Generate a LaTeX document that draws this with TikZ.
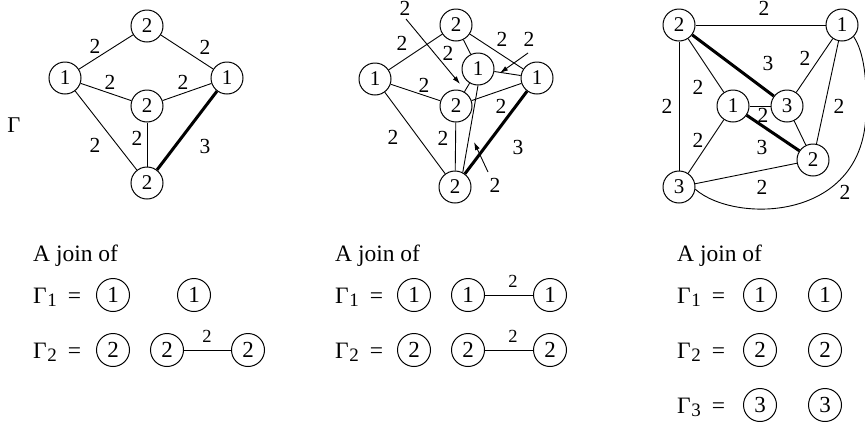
\documentclass[tikz,border=0pt]{standalone}
\usepackage{fontspec}
\setmainfont{Liberation Serif}
\usetikzlibrary{arrows.meta}
\begin{document}
\begin{tikzpicture}[x=1pt,y=-1pt,
  vtx/.style={circle,draw,line width=1pt,minimum size=32pt,inner sep=0pt,font=\fontsize{21}{21}\selectfont},
  bvtx/.style={circle,draw,line width=1pt,minimum size=33pt,inner sep=0pt,font=\fontsize{23}{23}\selectfont},
  lab/.style={inner sep=0pt,font=\fontsize{21.5}{21.5}\selectfont},
  slab/.style={inner sep=0pt,font=\fontsize{18.5}{18.5}\selectfont},
  edge/.style={line width=0.9pt},
  heavy/.style={line width=3pt},
  arr/.style={line width=0.9pt,-{Latex[length=8pt,width=5pt]}},
  txt/.style={inner sep=0pt,anchor=base west,font=\fontsize{23.5}{23.5}\selectfont}]
\useasboundingbox (0,0) rectangle (865,421);
\newcommand{\Gsub}[1]{Γ\kern0.5pt\raisebox{-3pt}{\fontsize{19}{19}\selectfont #1}\hspace{11pt}=}

% ---------- Graph 1 ----------
\node[lab,font=\fontsize{22.5}{22.5}\selectfont] (gam) at (14,125) {Γ};
\node[vtx] (a1) at (147,26) {2};
\node[vtx] (a2) at (65,78) {1};
\node[vtx] (a3) at (227,78) {1};
\node[vtx] (a4) at (147,106) {2};
\node[vtx] (a5) at (147,183) {2};
\draw[edge] (a1) -- (a2);
\draw[edge] (a1) -- (a3);
\draw[edge] (a2) -- (a4);
\draw[edge] (a3) -- (a4);
\draw[edge] (a2) -- (a5);
\draw[edge] (a4) -- (a5);
\draw[heavy] (a3) -- (a5);
\node[lab] (la1) at (95,46) {2};
\node[lab] (la2) at (205,47) {2};
\node[lab] (la3) at (110,82) {2};
\node[lab] (la4) at (183,82) {2};
\node[lab] (la5) at (137,138) {2};
\node[lab] (la6) at (95,145) {2};
\node[lab] (la7) at (205,146) {3};

% ---------- Graph 2 ----------
\node[vtx] (b1) at (456,25) {2};
\node[vtx] (b2) at (375,79) {1};
\node[vtx] (b3) at (478,69) {1};
\node[vtx] (b4) at (537,78) {1};
\node[vtx] (b5) at (456,106) {2};
\node[vtx] (b6) at (455,187) {2};
\draw[edge] (b1) -- (b2);
\draw[edge] (b1) -- (b4);
\draw[edge] (b1) -- (b3);
\draw[edge] (b2) -- (b5);
\draw[edge] (b2) -- (b6);
\draw[edge] (b5) -- (b6);
\draw[edge] (b5) -- (b4);
\draw[edge] (b3) -- (b5);
\draw[edge] (b3) -- (b4);
\draw[edge] (b3.-90) -- (b6.62);
\draw[heavy] (b4) -- (b6);
\node[lab] (lb1) at (405,8.5) {2};
\node[lab] (lb2) at (402,43) {2};
\node[lab] (lb3) at (448,53) {2};
\node[lab] (lb4) at (502,39) {2};
\node[lab] (lb5) at (529,39) {2};
\node[lab] (lb6) at (424,85) {2};
\node[lab] (lb7) at (501,106) {2};
\node[lab] (lb8) at (393,137) {2};
\node[lab] (lb9) at (443,138) {2};
\node[lab] (lb10) at (518,147) {3};
\node[lab] (lb11) at (495,185) {2};
\coordinate (t1) at (406,19); \coordinate (h1) at (460,84);
\coordinate (t2) at (528,53); \coordinate (h2) at (500,73);
\coordinate (t3) at (488,172); \coordinate (h3) at (474,142);
\draw[arr] (t1) -- (h1);
\draw[arr] (t2) -- (h2);
\draw[arr] (t3) -- (h3);

% ---------- Graph 3 ----------
\node[vtx] (c1) at (679,25) {2};
\node[vtx] (c2) at (842,25) {1};
\node[vtx] (c3) at (733,106) {1};
\node[vtx] (c4) at (787,106) {3};
\node[vtx] (c5) at (813,160) {2};
\node[vtx] (c6) at (679,187) {3};
\draw[edge] (c1) -- (c2);
\draw[edge] (c1) -- (c6);
\draw[edge] (c1) -- (c3);
\draw[heavy] (c1) -- (c4);
\draw[edge] (c2) -- (c4);
\draw[edge] (c2) -- (c5);
\draw[edge] (c3) -- (c4);
\draw[heavy] (c3) -- (c5);
\draw[edge] (c3) -- (c6);
\draw[edge] (c4) -- (c5);
\draw[edge] (c6) -- (c5);
\coordinate (cr) at (866,110);
\draw[edge] (c6.-8) .. controls (735,224) and (866,222) .. (cr)
  .. controls (867,80) and (864,52) .. (c2.-45);
\node[lab] (lc1) at (764,8.5) {2};
\node[lab] (lc2) at (667,106) {2};
\node[lab] (lc3) at (698,87) {2};
\node[lab] (lc4) at (768,63) {3};
\node[lab] (lc5) at (805,58) {2};
\node[lab] (lc6) at (839,106) {2};
\node[lab] (lc7) at (845,192) {2};
\node[lab] (lc8) at (763,115) {2};
\node[lab] (lc9) at (762,147) {3};
\node[lab] (lc10) at (698,140) {2};
\node[lab] (lc11) at (762,187) {2};

% ---------- Bottom: column 1 ----------
\node[txt] (j1) at (33,261) {A join of};
\node[txt] (g11) at (33,303) {\Gsub{1}};
\node[txt] (g12) at (33,358) {\Gsub{2}};
\node[bvtx] (d11) at (113,295) {1};
\node[bvtx] (d12) at (194,295) {1};
\node[bvtx] (d21) at (113,350) {2};
\node[bvtx] (d22) at (167,350) {2};
\node[bvtx] (d23) at (248,350) {2};
\draw[edge] (d22) -- (d23);
\node[slab] (ld) at (207,336) {2};

% ---------- Bottom: column 2 ----------
\node[txt] (j2) at (335,261) {A join of};
\node[txt] (g21) at (335,303) {\Gsub{1}};
\node[txt] (g22) at (335,358) {\Gsub{2}};
\node[bvtx] (e11) at (414,295) {1};
\node[bvtx] (e12) at (468,295) {1};
\node[bvtx] (e13) at (550,295) {1};
\node[bvtx] (e21) at (414,350) {2};
\node[bvtx] (e22) at (468,350) {2};
\node[bvtx] (e23) at (550,350) {2};
\draw[edge] (e12) -- (e13);
\draw[edge] (e22) -- (e23);
\node[slab] (le1) at (513,281) {2};
\node[slab] (le2) at (513,336) {2};

% ---------- Bottom: column 3 ----------
\node[txt] (j3) at (677,261) {A join of};
\node[txt] (g31) at (677,303) {\Gsub{1}};
\node[txt] (g32) at (677,358) {\Gsub{2}};
\node[txt] (g33) at (677,413) {\Gsub{3}};
\node[bvtx] (f11) at (760,295) {1};
\node[bvtx] (f12) at (825,295) {1};
\node[bvtx] (f21) at (760,350) {2};
\node[bvtx] (f22) at (825,350) {2};
\node[bvtx] (f31) at (760,405) {3};
\node[bvtx] (f32) at (825,405) {3};
\end{tikzpicture}
\end{document}
